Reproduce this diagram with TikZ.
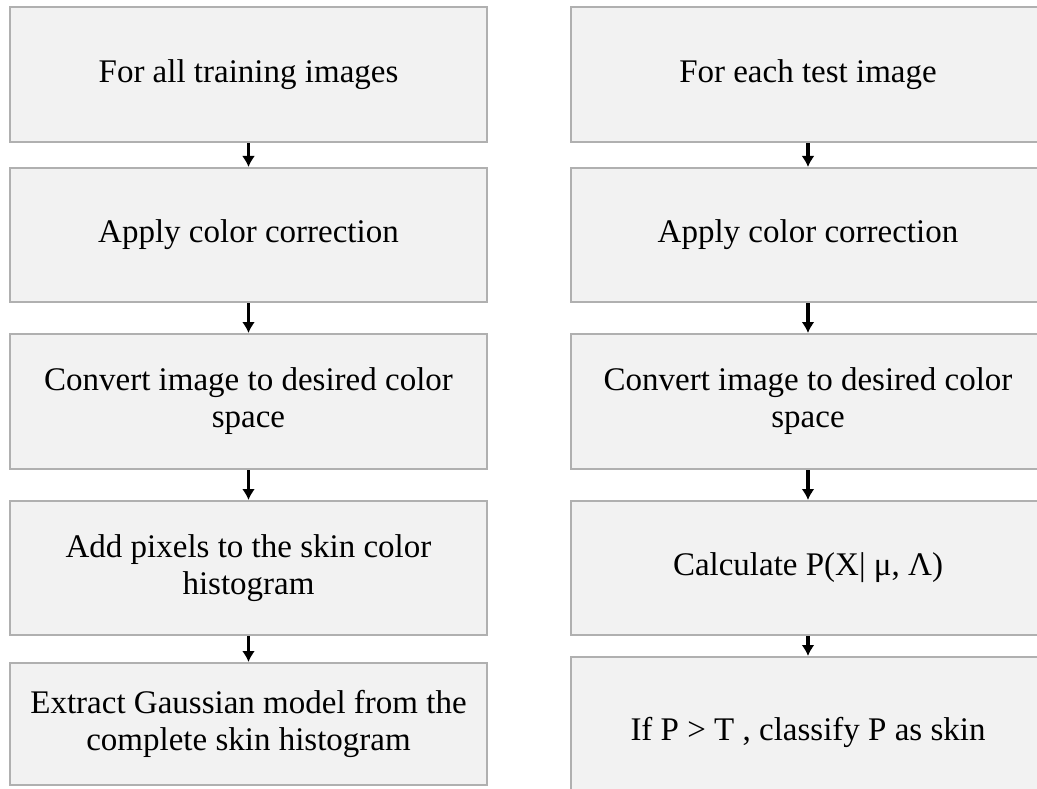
\documentclass[tikz,border=0pt]{standalone}
\usepackage{fontspec}
\setmainfont{Liberation Serif}
\usetikzlibrary{arrows.meta}
\definecolor{boxfill}{HTML}{F2F2F2}
\definecolor{boxline}{HTML}{B0B0B0}
\tikzset{
  stepbox/.style={draw=boxline, fill=boxfill, line width=2pt, align=center,
    inner sep=0pt, font=\fontsize{33}{37}\selectfont},
  leftcol/.style={stepbox, minimum width=477pt},
  rightcol/.style={stepbox, minimum width=474pt},
  flow/.style={line width=3.5pt, -{Latex[length=11pt,width=13pt]}, black}
}
\begin{document}
\begin{tikzpicture}[x=1pt,y=-1pt]
  \fill[white] (0,0) rectangle (1037,789);
  \useasboundingbox (0,0) rectangle (1037,789);
  \clip (0,0) rectangle (1037,789);
  % training pipeline
  \node[leftcol, minimum height=135pt] (l1) at (248.5,74.5) {For all training images};
  \node[leftcol, minimum height=134pt] (l2) at (248.5,235) {Apply color correction};
  \node[leftcol, minimum height=135pt] (l3) at (248.5,401.5) {Convert image to desired color\\space};
  \node[leftcol, minimum height=134pt] (l4) at (248.5,568) {Add pixels to the skin color\\histogram};
  \node[leftcol, minimum height=122pt] (l5) at (248.5,724) {Extract Gaussian model from the\\complete skin histogram};
  % test pipeline
  \node[rightcol, minimum height=135pt] (r1) at (808,74.5) {For each test image};
  \node[rightcol, minimum height=134pt] (r2) at (808,235) {Apply color correction};
  \node[rightcol, minimum height=135pt] (r3) at (808,401.5) {Convert image to desired color\\space};
  \node[rightcol, minimum height=134pt] (r4) at (808,568) {Calculate P(X| μ, Λ)};
  \node[rightcol, minimum height=150pt] (r5) at (808,732) {If P > T , classify P as skin};
  % arrows
  \foreach \a/\b in {l1/l2,l2/l3,l3/l4,l4/l5,r1/r2,r2/r3,r3/r4,r4/r5}
    \draw[flow] (\a.south) -- (\b.north);
\end{tikzpicture}
\end{document}
